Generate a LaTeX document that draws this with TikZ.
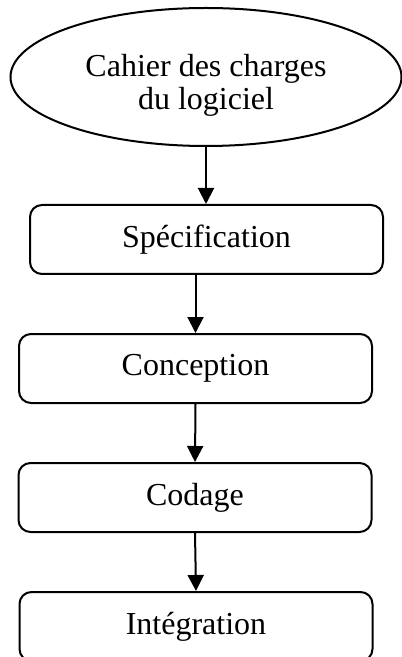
\documentclass[tikz,border=0pt]{standalone}
\usepackage{fontspec}
\setmainfont{Liberation Serif}
\usetikzlibrary{shapes.geometric,arrows.meta}

\begin{document}
\begin{tikzpicture}[
  x=0.5pt, y=-0.5pt,
  line width=1pt,
  big_text/.style={font=\fontsize{16}{16.5}\selectfont},
  cahier_oval/.style={big_text, ellipse, draw, align=center, inner sep=0pt, minimum width=195.5pt, minimum height=69pt},
  phase_box/.style={big_text, rectangle, draw, rounded corners=6pt, inner sep=0pt, minimum width=176.5pt, minimum height=34.5pt},
  flow_arrow/.style={-{Triangle[width=8pt, length=8pt]}},
]
\useasboundingbox (0,0) rectangle (401,657);
\draw (206,77) node (cdc) [cahier_oval] {\rule{0pt}{19pt}Cahier des charges\\du logiciel};
\draw (206.5,239.5) node (spec) [phase_box] {Spécification};
\draw (195.5,368.5) node (conc) [phase_box] {Conception};
\draw (195,497.5) node (cod) [phase_box] {Codage};
\draw (196,626.5) node (integ) [phase_box] {Intégration};
\draw [flow_arrow] (cdc.south) -- (cdc.south |- spec.north);
\draw [flow_arrow] (spec.south -| conc.north) -- (conc.north);
\draw [flow_arrow] (conc.south) -- (cod.north);
\draw [flow_arrow] (cod.south) -- (integ.north);
\end{tikzpicture}
\end{document}
